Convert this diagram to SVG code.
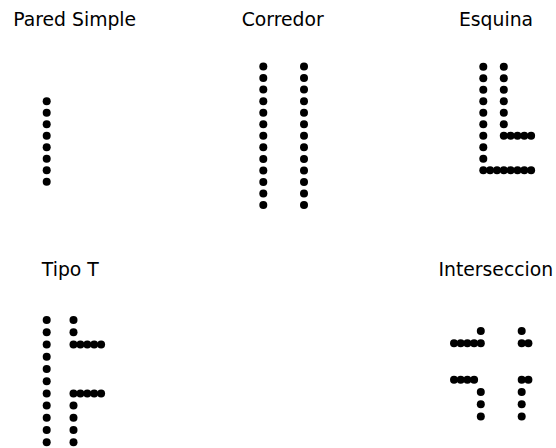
<svg xmlns="http://www.w3.org/2000/svg" xmlns:xlink="http://www.w3.org/1999/xlink" width="556" height="448" viewBox="0 0 556 448">
<style>
  .t { font-family: "DejaVu Sans", "Liberation Sans", sans-serif; font-size: 18.8px; fill: #000; text-anchor: middle; }
  circle { fill: #000; }
</style>
<defs><circle id="d" r="4"/></defs>
<rect width="556" height="448" fill="#fff"/>
<g id="pared-simple">
  <text class="t" x="74.7" y="26">Pared Simple</text>
  <g>
    <use xlink:href="#d" x="46.7" y="101.2"/><use xlink:href="#d" x="46.7" y="112.7"/><use xlink:href="#d" x="46.7" y="124.2"/><use xlink:href="#d" x="46.7" y="135.7"/>
    <use xlink:href="#d" x="46.7" y="147.2"/><use xlink:href="#d" x="46.7" y="158.7"/><use xlink:href="#d" x="46.7" y="170.2"/><use xlink:href="#d" x="46.7" y="181.7"/>
  </g>
</g>
<g id="corredor">
  <text class="t" x="282.7" y="26">Corredor</text>
  <g>
    <use xlink:href="#d" x="263.3" y="66.5"/><use xlink:href="#d" x="263.3" y="78.05"/><use xlink:href="#d" x="263.3" y="89.6"/><use xlink:href="#d" x="263.3" y="101.15"/><use xlink:href="#d" x="263.3" y="112.7"/><use xlink:href="#d" x="263.3" y="124.25"/><use xlink:href="#d" x="263.3" y="135.8"/><use xlink:href="#d" x="263.3" y="147.35"/><use xlink:href="#d" x="263.3" y="158.9"/><use xlink:href="#d" x="263.3" y="170.45"/><use xlink:href="#d" x="263.3" y="182"/><use xlink:href="#d" x="263.3" y="193.55"/><use xlink:href="#d" x="263.3" y="205.1"/>
    <use xlink:href="#d" x="304" y="66.5"/><use xlink:href="#d" x="304" y="78.05"/><use xlink:href="#d" x="304" y="89.6"/><use xlink:href="#d" x="304" y="101.15"/><use xlink:href="#d" x="304" y="112.7"/><use xlink:href="#d" x="304" y="124.25"/><use xlink:href="#d" x="304" y="135.8"/><use xlink:href="#d" x="304" y="147.35"/><use xlink:href="#d" x="304" y="158.9"/><use xlink:href="#d" x="304" y="170.45"/><use xlink:href="#d" x="304" y="182"/><use xlink:href="#d" x="304" y="193.55"/><use xlink:href="#d" x="304" y="205.1"/>
  </g>
</g>
<g id="esquina">
  <text class="t" x="496" y="26">Esquina</text>
  <g>
    <use xlink:href="#d" x="483.3" y="66.7"/><use xlink:href="#d" x="483.3" y="78.2"/><use xlink:href="#d" x="483.3" y="89.7"/><use xlink:href="#d" x="483.3" y="101.2"/><use xlink:href="#d" x="483.3" y="112.7"/><use xlink:href="#d" x="483.3" y="124.2"/><use xlink:href="#d" x="483.3" y="135.7"/><use xlink:href="#d" x="483.3" y="147.2"/><use xlink:href="#d" x="483.3" y="158.7"/><use xlink:href="#d" x="483.3" y="170.2"/>
    <use xlink:href="#d" x="503.8" y="66.7"/><use xlink:href="#d" x="503.8" y="78.2"/><use xlink:href="#d" x="503.8" y="89.7"/><use xlink:href="#d" x="503.8" y="101.2"/><use xlink:href="#d" x="503.8" y="112.7"/><use xlink:href="#d" x="503.8" y="124.2"/>
    <use xlink:href="#d" x="503.8" y="135.7"/><use xlink:href="#d" x="510.6" y="135.7"/><use xlink:href="#d" x="517.5" y="135.7"/><use xlink:href="#d" x="524.3" y="135.7"/><use xlink:href="#d" x="531.1" y="135.7"/>
    <use xlink:href="#d" x="490.1" y="170.2"/><use xlink:href="#d" x="497" y="170.2"/><use xlink:href="#d" x="503.8" y="170.2"/><use xlink:href="#d" x="510.6" y="170.2"/><use xlink:href="#d" x="517.5" y="170.2"/><use xlink:href="#d" x="524.3" y="170.2"/><use xlink:href="#d" x="531.1" y="170.2"/>
  </g>
</g>
<g id="tipo-t">
  <text class="t" x="70.3" y="276">Tipo T</text>
  <g>
    <use xlink:href="#d" x="46.7" y="320"/><use xlink:href="#d" x="46.7" y="332.2"/><use xlink:href="#d" x="46.7" y="344.5"/><use xlink:href="#d" x="46.7" y="356.7"/><use xlink:href="#d" x="46.7" y="368.9"/><use xlink:href="#d" x="46.7" y="381.2"/><use xlink:href="#d" x="46.7" y="393.4"/><use xlink:href="#d" x="46.7" y="405.6"/><use xlink:href="#d" x="46.7" y="417.8"/><use xlink:href="#d" x="46.7" y="430.1"/><use xlink:href="#d" x="46.7" y="442.3"/>
    <use xlink:href="#d" x="73.5" y="320"/><use xlink:href="#d" x="73.5" y="332.2"/>
    <use xlink:href="#d" x="73.5" y="344.5"/><use xlink:href="#d" x="80.4" y="344.5"/><use xlink:href="#d" x="87.3" y="344.5"/><use xlink:href="#d" x="94.2" y="344.5"/><use xlink:href="#d" x="101.1" y="344.5"/>
    <use xlink:href="#d" x="73.5" y="393.4"/><use xlink:href="#d" x="80.4" y="393.4"/><use xlink:href="#d" x="87.3" y="393.4"/><use xlink:href="#d" x="94.2" y="393.4"/><use xlink:href="#d" x="101.1" y="393.4"/>
    <use xlink:href="#d" x="73.5" y="405.6"/><use xlink:href="#d" x="73.5" y="417.8"/><use xlink:href="#d" x="73.5" y="430.1"/><use xlink:href="#d" x="73.5" y="442.3"/>
  </g>
</g>
<g id="interseccion">
  <text class="t" x="495.8" y="276">Interseccion</text>
  <g>
    <use xlink:href="#d" x="480.8" y="331"/><use xlink:href="#d" x="521.7" y="331"/>
    <use xlink:href="#d" x="454" y="343.2"/><use xlink:href="#d" x="460.7" y="343.2"/><use xlink:href="#d" x="467.4" y="343.2"/><use xlink:href="#d" x="474.1" y="343.2"/><use xlink:href="#d" x="480.8" y="343.2"/>
    <use xlink:href="#d" x="521.7" y="343.2"/><use xlink:href="#d" x="528.4" y="343.2"/>
    <use xlink:href="#d" x="454" y="379.8"/><use xlink:href="#d" x="460.7" y="379.8"/><use xlink:href="#d" x="467.4" y="379.8"/><use xlink:href="#d" x="474.1" y="379.8"/>
    <use xlink:href="#d" x="521.7" y="379.8"/><use xlink:href="#d" x="528.4" y="379.8"/>
    <use xlink:href="#d" x="480.8" y="392"/><use xlink:href="#d" x="480.8" y="404.2"/><use xlink:href="#d" x="480.8" y="416.4"/>
    <use xlink:href="#d" x="521.7" y="392"/><use xlink:href="#d" x="521.7" y="404.2"/><use xlink:href="#d" x="521.7" y="416.4"/>
  </g>
</g>
</svg>
